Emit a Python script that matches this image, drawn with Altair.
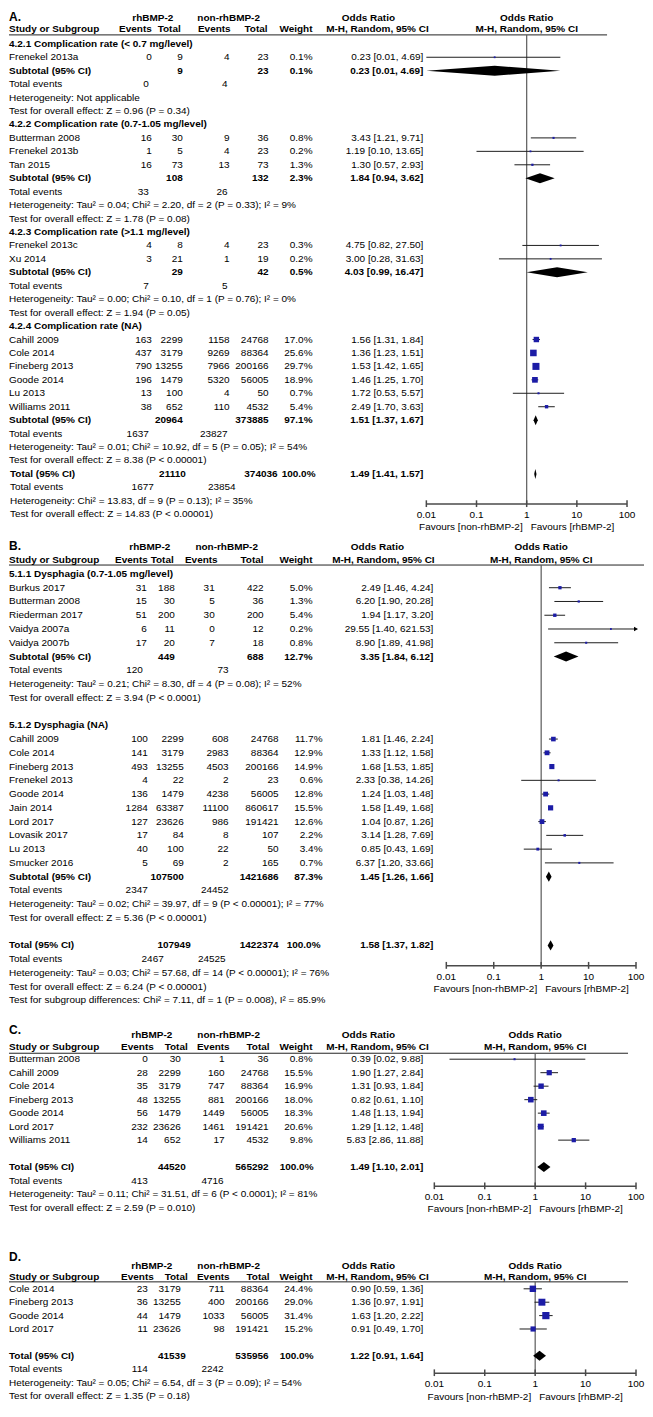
import altair as alt
import pandas as pd

FONT = "Liberation Sans"
BLUE = "#1c1ca6"
FS = 10
S = 0.9935  # slight vertical compression so the page fits the window without scrolling
YOFF = 7    # reference y that maps to the chart's top edge
W = 636     # keep the whole chart inside the page (no overflow)

# ---------------- data ----------------
# row tuples: (kind, label, events1, total1, events2, total2, weight%, OR, lower, upper)
A_sub1 = [
    ("head", "4.2.1 Complication rate (< 0.7 mg/level)"),
    ("study", "Frenekel 2013a", 0, 9, 4, 23, 0.1, 0.23, 0.01, 4.69),
    ("sub", "Subtotal (95% CI)", None, 9, None, 23, 0.1, 0.23, 0.01, 4.69),
    ("ev", "Total events", 0, None, 4),
    ("note", "Heterogeneity: Not applicable"),
    ("note", "Test for overall effect: Z = 0.96 (P = 0.34)"),
]
A_sub2 = [
    ("head", "4.2.2 Complication rate (0.7-1.05 mg/level)"),
    ("study", "Butterman 2008", 16, 30, 9, 36, 0.8, 3.43, 1.21, 9.71),
    ("study", "Frenekel 2013b", 1, 5, 4, 23, 0.2, 1.19, 0.10, 13.65),
    ("study", "Tan 2015", 16, 73, 13, 73, 1.3, 1.30, 0.57, 2.93),
    ("sub", "Subtotal (95% CI)", None, 108, None, 132, 2.3, 1.84, 0.94, 3.62),
    ("ev", "Total events", 33, None, 26),
    ("note", "Heterogeneity: Tau\u00b2 = 0.04; Chi\u00b2 = 2.20, df = 2 (P = 0.33); I\u00b2 = 9%"),
    ("note", "Test for overall effect: Z = 1.78 (P = 0.08)"),
]
A_sub3 = [
    ("head", "4.2.3 Complication rate (>1.1 mg/level)"),
    ("study", "Frenekel 2013c", 4, 8, 4, 23, 0.3, 4.75, 0.82, 27.50),
    ("study", "Xu 2014", 3, 21, 1, 19, 0.2, 3.00, 0.28, 31.63),
    ("sub", "Subtotal (95% CI)", None, 29, None, 42, 0.5, 4.03, 0.99, 16.47),
    ("ev", "Total events", 7, None, 5),
    ("note", "Heterogeneity: Tau\u00b2 = 0.00; Chi\u00b2 = 0.10, df = 1 (P = 0.76); I\u00b2 = 0%"),
    ("note", "Test for overall effect: Z = 1.94 (P = 0.05)"),
]
A_sub4 = [
    ("head", "4.2.4 Complication rate (NA)"),
    ("study", "Cahill 2009", 163, 2299, 1158, 24768, 17.0, 1.56, 1.31, 1.84),
    ("study", "Cole 2014", 437, 3179, 9269, 88364, 25.6, 1.36, 1.23, 1.51),
    ("study", "Fineberg 2013", 790, 13255, 7966, 200166, 29.7, 1.53, 1.42, 1.65),
    ("study", "Goode 2014", 196, 1479, 5320, 56005, 18.9, 1.46, 1.25, 1.70),
    ("study", "Lu 2013", 13, 100, 4, 50, 0.7, 1.72, 0.53, 5.57),
    ("study", "Williams 2011", 38, 652, 110, 4532, 5.4, 2.49, 1.70, 3.63),
    ("sub", "Subtotal (95% CI)", None, 20964, None, 373885, 97.1, 1.51, 1.37, 1.67),
    ("ev", "Total events", 1637, None, 23827),
    ("note", "Heterogeneity: Tau\u00b2 = 0.01; Chi\u00b2 = 10.92, df = 5 (P = 0.05); I\u00b2 = 54%"),
    ("note", "Test for overall effect: Z = 8.38 (P < 0.00001)"),
]
A_total = [
    ("tot", "Total (95% CI)", None, 21110, None, 374036, 100.0, 1.49, 1.41, 1.57),
    ("ev", "Total events", 1677, None, 23854),
    ("note", "Heterogeneity: Chi\u00b2 = 13.83, df = 9 (P = 0.13); I\u00b2 = 35%"),
    ("note", "Test for overall effect: Z = 14.83 (P < 0.00001)"),
]

B_sub1 = [
    ("head", "5.1.1 Dysphagia (0.7-1.05 mg/level)"),
    ("study", "Burkus 2017", 31, 188, 31, 422, 5.0, 2.49, 1.46, 4.24),
    ("study", "Butterman 2008", 15, 30, 5, 36, 1.3, 6.20, 1.90, 20.28),
    ("study", "Riederman 2017", 51, 200, 30, 200, 5.4, 1.94, 1.17, 3.20),
    ("study", "Vaidya 2007a", 6, 11, 0, 12, 0.2, 29.55, 1.40, 621.53),
    ("study", "Vaidya 2007b", 17, 20, 7, 18, 0.8, 8.90, 1.89, 41.98),
    ("sub", "Subtotal (95% CI)", None, 449, None, 688, 12.7, 3.35, 1.84, 6.12),
    ("ev", "Total events", 120, None, 73),
    ("note", "Heterogeneity: Tau\u00b2 = 0.21; Chi\u00b2 = 8.30, df = 4 (P = 0.08); I\u00b2 = 52%"),
    ("note", "Test for overall effect: Z = 3.94 (P < 0.0001)"),
    ("blank", ""),
]
B_sub2 = [
    ("head", "5.1.2 Dysphagia (NA)"),
    ("study", "Cahill 2009", 100, 2299, 608, 24768, 11.7, 1.81, 1.46, 2.24),
    ("study", "Cole 2014", 141, 3179, 2983, 88364, 12.9, 1.33, 1.12, 1.58),
    ("study", "Fineberg 2013", 493, 13255, 4503, 200166, 14.9, 1.68, 1.53, 1.85),
    ("study", "Frenekel 2013", 4, 22, 2, 23, 0.6, 2.33, 0.38, 14.26),
    ("study", "Goode 2014", 136, 1479, 4238, 56005, 12.8, 1.24, 1.03, 1.48),
    ("study", "Jain 2014", 1284, 63387, 11100, 860617, 15.5, 1.58, 1.49, 1.68),
    ("study", "Lord 2017", 127, 23626, 986, 191421, 12.6, 1.04, 0.87, 1.26),
    ("study", "Lovasik 2017", 17, 84, 8, 107, 2.2, 3.14, 1.28, 7.69),
    ("study", "Lu 2013", 40, 100, 22, 50, 3.4, 0.85, 0.43, 1.69),
    ("study", "Smucker 2016", 5, 69, 2, 165, 0.7, 6.37, 1.20, 33.66),
    ("sub", "Subtotal (95% CI)", None, 107500, None, 1421686, 87.3, 1.45, 1.26, 1.66),
    ("ev", "Total events", 2347, None, 24452),
    ("note", "Heterogeneity: Tau\u00b2 = 0.02; Chi\u00b2 = 39.97, df = 9 (P < 0.00001); I\u00b2 = 77%"),
    ("note", "Test for overall effect: Z = 5.36 (P < 0.00001)"),
    ("blank", ""),
]
B_total = [
    ("tot", "Total (95% CI)", None, 107949, None, 1422374, 100.0, 1.58, 1.37, 1.82),
    ("ev", "Total events", 2467, None, 24525),
    ("note", "Heterogeneity: Tau\u00b2 = 0.03; Chi\u00b2 = 57.68, df = 14 (P < 0.00001); I\u00b2 = 76%"),
    ("note", "Test for overall effect: Z = 6.24 (P < 0.00001)"),
    ("note", "Test for subgroup differences: Chi\u00b2 = 7.11, df = 1 (P = 0.008), I\u00b2 = 85.9%"),
]

C_studies = [
    ("study", "Butterman 2008", 0, 30, 1, 36, 0.8, 0.39, 0.02, 9.88),
    ("study", "Cahill 2009", 28, 2299, 160, 24768, 15.5, 1.90, 1.27, 2.84),
    ("study", "Cole 2014", 35, 3179, 747, 88364, 16.9, 1.31, 0.93, 1.84),
    ("study", "Fineberg 2013", 48, 13255, 881, 200166, 18.0, 0.82, 0.61, 1.10),
    ("study", "Goode 2014", 56, 1479, 1449, 56005, 18.3, 1.48, 1.13, 1.94),
    ("study", "Lord 2017", 232, 23626, 1461, 191421, 20.6, 1.29, 1.12, 1.48),
    ("study", "Williams 2011", 14, 652, 17, 4532, 9.8, 5.83, 2.86, 11.88),
    ("blank", ""),
]
C_total = [
    ("tot", "Total (95% CI)", None, 44520, None, 565292, 100.0, 1.49, 1.10, 2.01),
    ("ev", "Total events", 413, None, 4716),
    ("note", "Heterogeneity: Tau\u00b2 = 0.11; Chi\u00b2 = 31.51, df = 6 (P < 0.0001); I\u00b2 = 81%"),
    ("note", "Test for overall effect: Z = 2.59 (P = 0.010)"),
]

D_studies = [
    ("study", "Cole 2014", 23, 3179, 711, 88364, 24.4, 0.90, 0.59, 1.36),
    ("study", "Fineberg 2013", 36, 13255, 400, 200166, 29.0, 1.36, 0.97, 1.91),
    ("study", "Goode 2014", 44, 1479, 1033, 56005, 31.4, 1.63, 1.20, 2.22),
    ("study", "Lord 2017", 11, 23626, 98, 191421, 15.2, 0.91, 0.49, 1.70),
    ("blank", ""),
]
D_total = [
    ("tot", "Total (95% CI)", None, 41539, None, 535956, 100.0, 1.22, 0.91, 1.64),
    ("ev", "Total events", 114, None, 2242),
    ("note", "Heterogeneity: Tau\u00b2 = 0.05; Chi\u00b2 = 6.54, df = 3 (P = 0.09); I\u00b2 = 54%"),
    ("note", "Test for overall effect: Z = 1.35 (P = 0.18)"),
]

GROUPS = ["rhBMP-2", "non-rhBMP-2"]
COLHEADS = ["Events", "Total", "Events", "Total", "Weight"]
TICKS = [0.01, 0.1, 1, 10, 100]
TICK_LABELS = ["0.01", "0.1", "1", "10", "100"]
FAVOURS = ["Favours [non-rhBMP-2]", "Favours [rhBMP-2]"]

# ---------------- layout (reference-pixel positions) ----------------
COLS_CD = {
    "main": dict(lab=6, e1=147, n1=180, e2=224, n2=268, w=312),
    "tot": dict(lab=6, n1=185, n2=268, w=313, te1=147, te2=223),
}
LAYOUT = {
    "A": dict(top=YOFF, bottom=537, row0=41, pitch=13.55, letter=6, grp=15, colh=26.5,
              uline=32, axis=505, ticklab=516, fav=528, fx=(426, 627), ulend=607,
              orx=423, orh=(368, 377), grpx=(152, 228), hcols=(151, 180, 230, 267, 312),
              cols={"main": dict(lab=6, e1=151, n1=182, e2=229, n2=268, w=312, te1=148, te2=227),
                    "tot": dict(lab=9, n1=185, n2=277, w=315, te1=153, te2=235)}),
    "B": dict(top=537, bottom=1025, row0=575, pitch=13.87, letter=547, grp=548, colh=561,
              uline=566, axis=970, ticklab=981, fav=993, fx=(446, 636), ulend=644,
              orx=433, orh=(377, 383), grpx=(149, 226), hcols=(147, 173, 217, 263, 312),
              cols={"s1": dict(lab=6, e1=146, n1=174, e2=214, n2=263, w=312, te1=142, te2=228),
                    "s2": dict(lab=6, e1=147, n1=183, e2=228, n2=278, w=322, te1=147, te2=228),
                    "tot": dict(lab=6, n1=190, n2=278, w=320, te1=163, te2=225)}),
    "C": dict(top=1025, bottom=1253, row0=1064, pitch=13.6, letter=1035, grp=1040, colh=1052,
              uline=1058, axis=1192, ticklab=1203, fav=1215, fx=(434, 636), ulend=628,
              orx=423, orh=(368, 377), grpx=(151, 228), hcols=(153, 187, 229, 269, 312),
              cols=COLS_CD),
    "D": dict(top=1253, bottom=1409, row0=1295, pitch=13.5, letter=1263, grp=1272, colh=1283,
              uline=1288, axis=1380, ticklab=1391, fav=1404, fx=(434, 636), ulend=628,
              orx=423, orh=(368, 377), grpx=(151, 228), hcols=(153, 187, 229, 269, 312),
              cols=COLS_CD),
}
DIA_H = 0.37


def fmt_or(o, lo, hi):
    return f"{o:.2f} [{lo:.2f}, {hi:.2f}]"


def build_panel(letter, sections, L):
    p, r0 = L["pitch"], L["row0"]

    def R(ref):
        return (ref - r0) / p

    def X(ref):
        return min(max(ref - 8.0, 0.0), W)

    groups = {}
    cells = []

    def cell(y, t, x, align, bold, size=FS):
        key = (round(x, 2), align, bold, size)
        gid = groups.setdefault(key, f"g{len(groups)}")
        cells.append({"y": y, "t": "" if t is None else str(t), "g": gid})

    studies, dia = [], []
    r = 0
    for sec, rows in sections:
        C = L["cols"][sec]
        for row in rows:
            kind, label, e1, n1, e2, n2, w, o, lo, hi = tuple(row) + (None,) * (10 - len(row))
            if kind != "blank":
                cell(r, label, X(C["lab"]), "left", kind in ("head", "sub", "tot"))
            if kind == "study":
                cell(r, e1, X(C["e1"]), "right", False)
                cell(r, n1, X(C["n1"]), "right", False)
                cell(r, e2, X(C["e2"]), "right", False)
                cell(r, n2, X(C["n2"]), "right", False)
                cell(r, f"{w:.1f}%", X(C["w"]), "right", False)
                cell(r, fmt_or(o, lo, hi), X(L["orx"]), "right", False)
                studies.append({"y": r, "o": o, "lo": lo, "hi": hi, "w": w})
            elif kind in ("sub", "tot"):
                cell(r, n1, X(C["n1"]), "right", True)
                cell(r, n2, X(C["n2"]), "right", True)
                cell(r, f"{w:.1f}%", X(C["w"]), "right", True)
                cell(r, fmt_or(o, lo, hi), X(L["orx"]), "right", True)
                for xv, h in ((lo, 0.0), (o, DIA_H), (hi, 0.0)):
                    dia.append({"id": r, "xv": xv, "ya": r - h, "yb": r + h})
            elif kind == "ev":
                cell(r, e1, X(C["te1"]), "right", False)
                cell(r, e2, X(C["te2"]), "right", False)
            r += 1

    x0, x1 = X(L["fx"][0]), X(L["fx"][1])
    xone = (x0 + x1) / 2.0
    d0, d1 = R(L["top"]), R(L["bottom"])
    # header cells
    cell(max(R(L["letter"]), d0 + 6.5 / p), letter + ".", 0, "left", True, 12)
    cell(R(L["grp"]), GROUPS[0], X(L["grpx"][0]), "center", True)
    cell(R(L["grp"]), GROUPS[1], X(L["grpx"][1]), "center", True)
    cell(R(L["grp"]), "Odds Ratio", X(L["orh"][0]), "center", True)
    cell(R(L["grp"]), "Odds Ratio", xone, "center", True)
    cell(R(L["colh"]), "Study or Subgroup", X(6), "left", True)
    for hx, ht in zip(L["hcols"], COLHEADS):
        cell(R(L["colh"]), ht, X(hx), "right", True)
    cell(R(L["colh"]), "M-H, Random, 95% CI", X(L["orh"][1]), "center", True)
    cell(R(L["colh"]), "M-H, Random, 95% CI", xone, "center", True)

    cells_df = pd.DataFrame(cells)
    st_df = pd.DataFrame(studies)
    dia_df = pd.DataFrame(dia)

    H = (L["bottom"] - L["top"]) * S
    ys = alt.Scale(domain=[d0, d1], reverse=True, nice=False, zero=False)
    xs = alt.Scale(type="log", domain=[TICKS[0], TICKS[-1]], range=[x0, x1], clamp=True, nice=False)
    Y = lambda f: alt.Y(f, scale=ys, axis=None)
    Xf = lambda f: alt.X(f, scale=xs, axis=None)

    layers = []
    # header underline
    layers.append(alt.Chart(pd.DataFrame({"y": [R(L["uline"])]})).mark_rule(
        color="#222222", strokeWidth=1).encode(x=alt.value(0), x2=alt.value(X(L["ulend"])), y=Y("y:Q")))
    # line of no effect
    layers.append(alt.Chart(pd.DataFrame({"x": [1], "y": [R(L["uline"])], "y2": [R(L["axis"])]})).mark_rule(
        color="#5a5a5a", strokeWidth=1.2).encode(x=Xf("x:Q"), y=Y("y:Q"), y2="y2:Q"))
    # axis
    ax_df = pd.DataFrame({"x": TICKS, "lab": TICK_LABELS,
                          "y0": [R(L["axis"]) - 0.28] * 5, "y1": [R(L["axis"]) + 0.22] * 5,
                          "yl": [R(L["ticklab"])] * 5})
    layers.append(alt.Chart(pd.DataFrame({"a": [TICKS[0]], "b": [TICKS[-1]], "y": [R(L["axis"])]})).mark_rule(
        color="#4a4a4a", strokeWidth=1.5).encode(x=Xf("a:Q"), x2="b:Q", y=Y("y:Q")))
    layers.append(alt.Chart(ax_df).mark_rule(color="#4a4a4a", strokeWidth=1.5).encode(
        x=Xf("x:Q"), y=Y("y0:Q"), y2="y1:Q"))
    layers.append(alt.Chart(ax_df).mark_text(font=FONT, fontSize=FS, baseline="middle", align="center",
                                              color="black").encode(
        x=Xf("x:Q"), y=Y("yl:Q"), text="lab:N"))
    fav_df = pd.DataFrame({"x": [1, 1], "t": FAVOURS, "y": [R(L["fav"])] * 2, "s": ["L", "R"]})
    layers.append(alt.Chart(fav_df).transform_filter(alt.datum.s == "L").mark_text(
        font=FONT, fontSize=FS, baseline="middle", align="right", dx=-4, color="black").encode(
        x=Xf("x:Q"), y=Y("y:Q"), text="t:N"))
    layers.append(alt.Chart(fav_df).transform_filter(alt.datum.s == "R").mark_text(
        font=FONT, fontSize=FS, baseline="middle", align="left", dx=4, color="black").encode(
        x=Xf("x:Q"), y=Y("y:Q"), text="t:N"))
    # confidence intervals
    layers.append(alt.Chart(st_df).mark_rule(color="#1e1e1e", strokeWidth=1).encode(
        x=Xf("lo:Q"), x2="hi:Q", y=Y("y:Q")))
    layers.append(alt.Chart(st_df).transform_filter(alt.datum.hi > TICKS[-1]).mark_point(
        shape="triangle-right", filled=True, size=22, color="black", opacity=1).encode(
        x=Xf("hi:Q"), y=Y("y:Q")))
    # study squares
    layers.append(alt.Chart(st_df).mark_square(filled=True, color=BLUE, opacity=1).encode(
        x=Xf("o:Q"), y=Y("y:Q"),
        size=alt.Size("w:Q", scale=alt.Scale(domain=[0, 30], range=[3, 50]), legend=None)))
    # pooled diamonds
    layers.append(alt.Chart(dia_df).mark_area(orient="vertical", color="black", opacity=1).encode(
        x=Xf("xv:Q"), y=Y("ya:Q"), y2="yb:Q", detail="id:N"))
    # text cells
    for (x, align, bold, size), gid in groups.items():
        layers.append(alt.Chart(cells_df).transform_filter(alt.datum.g == gid).mark_text(
            font=FONT, fontSize=size, fontWeight="bold" if bold else "normal",
            align=align, baseline="middle", color="black").encode(
            x=alt.value(x), y=Y("y:Q"), text="t:N"))

    return alt.layer(*layers).properties(width=W, height=H)


pA = build_panel("A", [("main", A_sub1), ("main", A_sub2), ("main", A_sub3), ("main", A_sub4),
                       ("tot", A_total)], LAYOUT["A"])
pB = build_panel("B", [("s1", B_sub1), ("s2", B_sub2), ("tot", B_total)], LAYOUT["B"])
pC = build_panel("C", [("main", C_studies), ("tot", C_total)], LAYOUT["C"])
pD = build_panel("D", [("main", D_studies), ("tot", D_total)], LAYOUT["D"])

chart = alt.vconcat(pA, pB, pC, pD, spacing=0, bounds="flush", padding=0).configure_view(
    stroke="transparent")

chart.save("out.html", embed_options={"renderer": "svg", "actions": False})
